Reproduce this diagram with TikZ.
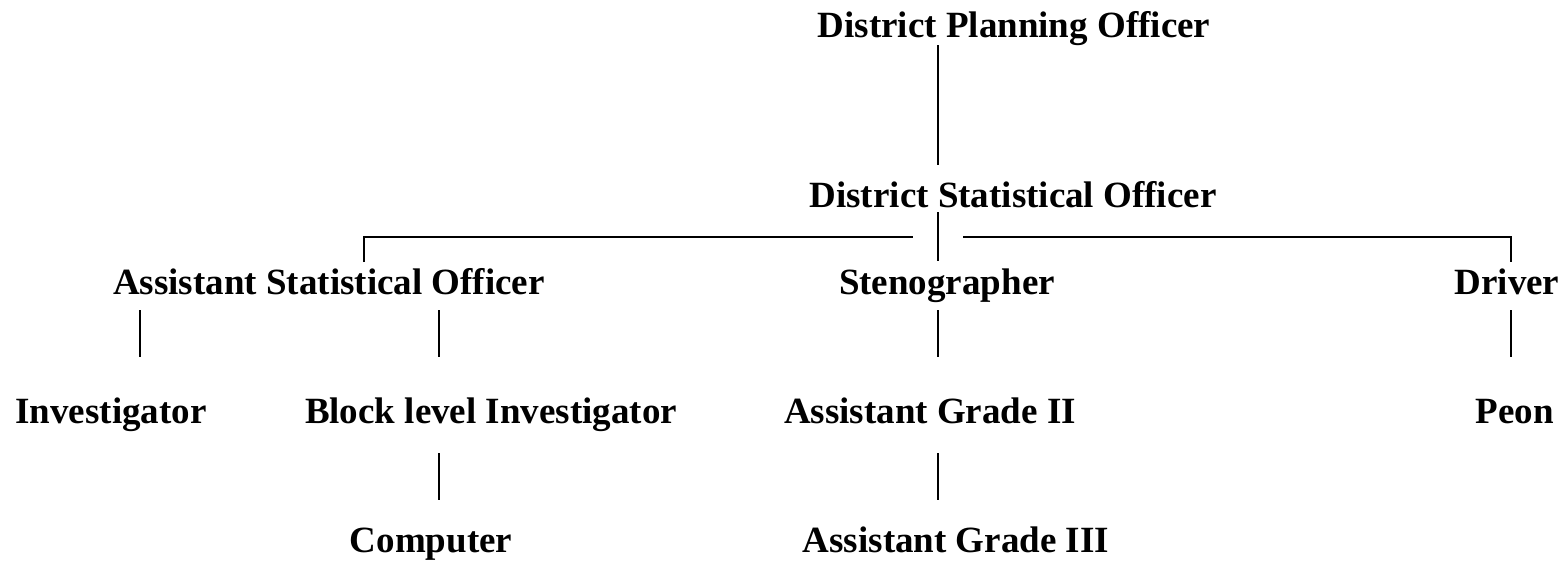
\documentclass[tikz,border=0pt]{standalone}
\usepackage{fontspec}
\setmainfont{Liberation Serif}
\begin{document}
\begin{tikzpicture}[x=1pt,y=-1pt,
  lbl/.style={anchor=base,inner sep=0pt,font=\fontsize{37}{44}\selectfont\bfseries},
  conn/.style={line width=1.8pt}]
\useasboundingbox (0,0) rectangle (1567,563);
% nodes
\node[lbl] (dpo) at (1014,37) {District Planning Officer};
\node[lbl] (dso) at (1013,207) {District Statistical Officer};
\node[lbl] (aso) at (329,294) {Assistant Statistical Officer};
\node[lbl] (steno) at (947,294) {Stenographer};
\node[lbl] (driver) at (1507,294) {Driver};
\node[lbl] (inv) at (111,423) {Investigator};
\node[lbl] (bli) at (491,423) {Block level Investigator};
\node[lbl] (ag2) at (930,423) {Assistant Grade II};
\node[lbl] (peon) at (1515,423) {Peon};
\node[lbl] (comp) at (431,552) {Computer};
\node[lbl] (ag3) at (956,552) {Assistant Grade III};
% connector end points
\coordinate (c1a) at (938,45);  \coordinate (c1b) at (938,165);
\coordinate (c2a) at (938,212); \coordinate (c2b) at (938,261);
\coordinate (hl1) at (364,262); \coordinate (hl2) at (364,237); \coordinate (hl3) at (913,237);
\coordinate (hr1) at (963,237); \coordinate (hr2) at (1511,237); \coordinate (hr3) at (1511,262);
\coordinate (a1) at (140,310); \coordinate (a2) at (140,357);
\coordinate (b1) at (439,310); \coordinate (b2) at (439,357);
\coordinate (s1) at (938,310); \coordinate (s2) at (938,357);
\coordinate (d1) at (1511,310); \coordinate (d2) at (1511,357);
\coordinate (e1) at (439,453); \coordinate (e2) at (439,500);
\coordinate (g1) at (938,453); \coordinate (g2) at (938,500);
% connectors
\draw[conn] (c1a) -- (c1b);
\draw[conn] (c2a) -- (c2b);
\draw[conn] (hl1) -- (hl2) -- (hl3);
\draw[conn] (hr1) -- (hr2) -- (hr3);
\draw[conn] (a1) -- (a2);
\draw[conn] (b1) -- (b2);
\draw[conn] (s1) -- (s2);
\draw[conn] (d1) -- (d2);
\draw[conn] (e1) -- (e2);
\draw[conn] (g1) -- (g2);
\end{tikzpicture}
\end{document}
